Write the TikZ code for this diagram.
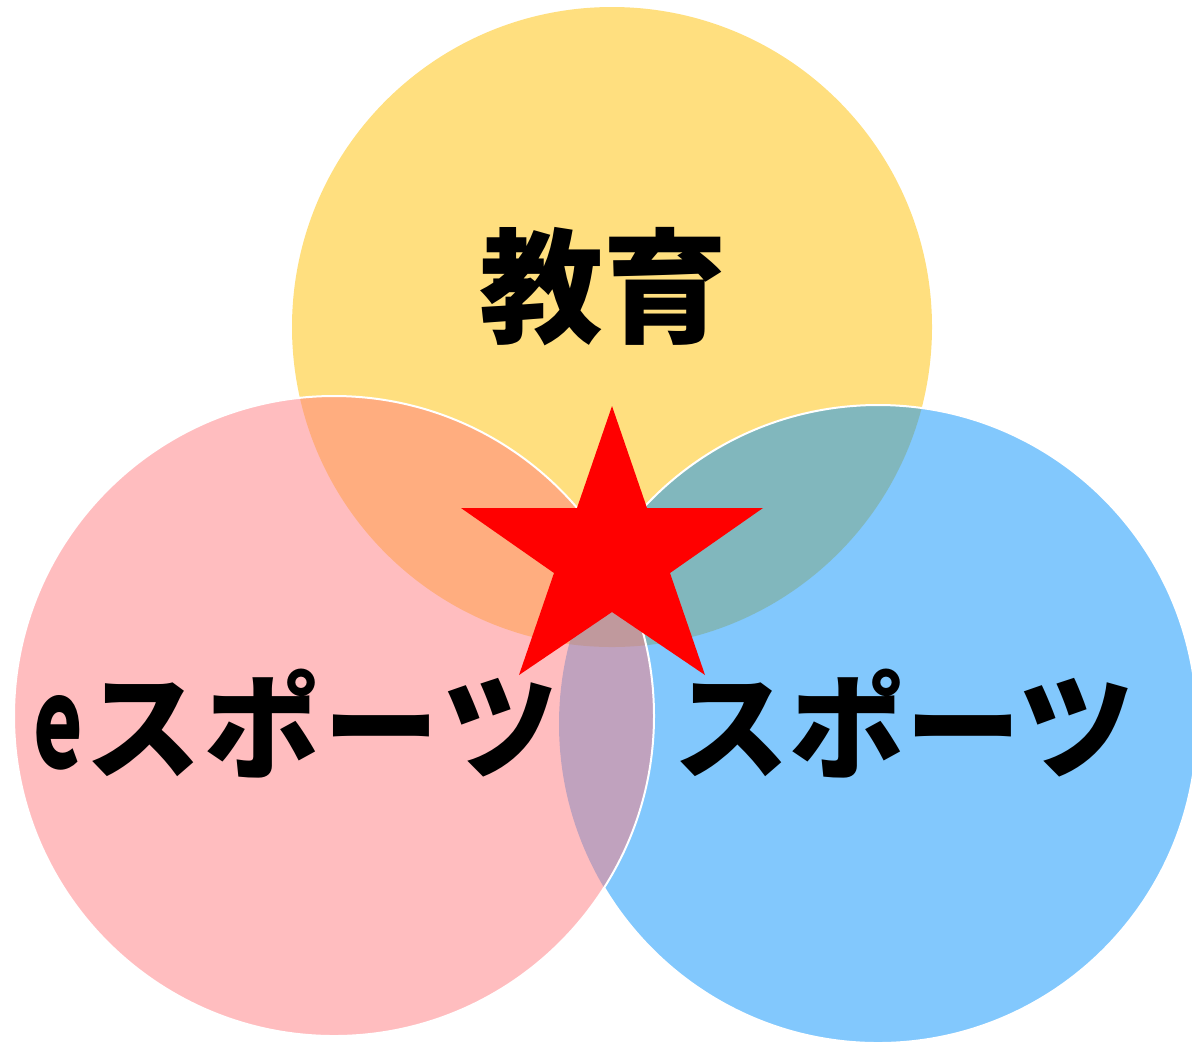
\documentclass[tikz,border=0pt]{standalone}
\usepackage{fontspec}
\setmainfont{Noto Sans CJK JP}
\newfontfamily\cjk{Noto Sans CJK JP}
\definecolor{cyellow}{RGB}{255,192,0}
\definecolor{cblue}{RGB}{5,145,251}
\definecolor{cpink}{RGB}{255,124,128}
\tikzset{
  disc/.style={fill opacity=0.5, draw=none},
  rim/.style={draw=white, line width=1pt},
  label/.style={text=black, inner sep=0pt, anchor=center},
}
\begin{document}
\begin{tikzpicture}[x=0.5pt,y=-0.5pt]
\useasboundingbox (0,0) rectangle (1192,1041);
\coordinate (cy) at (612,327);
\coordinate (cp) at (334,716);
\coordinate (cb) at (878,724);
% fills
\fill[disc, cyellow] (cy) circle[radius=160pt];
\fill[disc, cblue] (cb) circle[radius=159.5pt];
\fill[disc, cpink] (cp) circle[radius=160pt];
% white rims
\begin{scope}[even odd rule]
  \clip (-10,-10) rectangle (1202,1051) (cp) circle[radius=160pt];
  \draw[rim] (cb) circle[radius=159.5pt];
\end{scope}
\draw[rim] (cp) circle[radius=160pt];
% star
\coordinate (s1) at (612,406);
\coordinate (s2) at (647,508);
\coordinate (s3) at (763,508);
\coordinate (s4) at (670,573);
\coordinate (s5) at (705,675);
\coordinate (s6) at (612,612);
\coordinate (s7) at (519,675);
\coordinate (s8) at (554,573);
\coordinate (s9) at (461,508);
\coordinate (s10) at (577,508);
\fill[red] (s1) -- (s2) -- (s3) -- (s4) -- (s5) -- (s6) -- (s7) -- (s8) -- (s9) -- (s10) -- cycle;
% labels
\node[label, font=\cjk\bfseries\fontsize{62pt}{70pt}\selectfont] (edu) at (603,287) {教育};
\node[label, font=\cjk\bfseries\fontsize{58pt}{66pt}\selectfont] (esp) at (296,724) {\raisebox{1pt}{\scalebox{0.72}[1.08]{e}}\kern1pt ス\kern1.5pt ポ\kern1.5pt ー\kern1.5pt ツ};
\node[label, font=\cjk\bfseries\fontsize{58pt}{66pt}\selectfont] (sp) at (904,724) {スポーツ};
\end{tikzpicture}
\end{document}
